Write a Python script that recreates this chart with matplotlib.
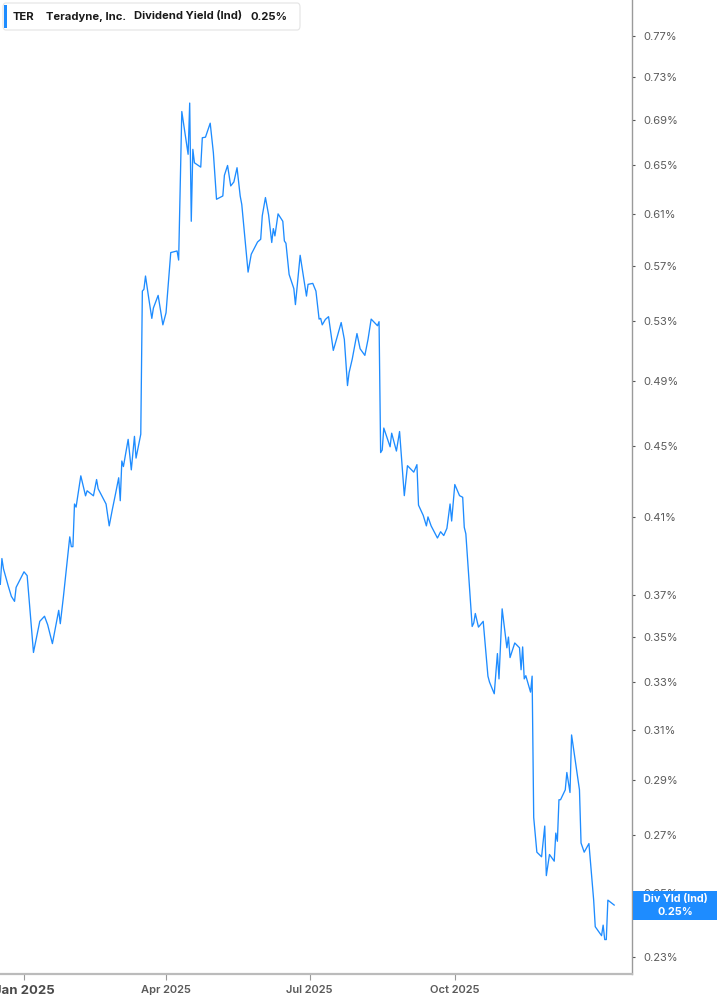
import numpy as np
import pandas as pd
import matplotlib
matplotlib.use("Agg")
import matplotlib.pyplot as plt
from matplotlib.patches import FancyBboxPatch, Rectangle
from matplotlib.ticker import FixedLocator, FixedFormatter, NullLocator

plt.rcParams['font.family'] = ['Inter', 'DejaVu Sans']

# TER dividend yield (Ind), %, days counted from 2025-01-01
day = [-15, -14, -13, -10, -8, -6, -5, 0, 2, 6, 10, 13, 15, 18, 22, 23, 25, 29, 30, 31,
       32, 33, 36, 39, 40, 44, 46, 47, 52, 54, 56, 58, 60, 61, 62, 63, 66, 68, 70, 71,
       74, 75, 76, 77, 79, 81, 82, 85, 88, 90, 93, 97, 98, 100, 102, 104, 105, 106, 107, 108,
       112, 113, 115, 118, 120, 122, 126, 127, 129, 131, 133, 135, 137, 138, 142, 144, 148, 150, 151, 153,
       155, 157, 158, 159, 161, 164, 165, 166, 168, 171, 172, 175, 179, 180, 183, 185, 187, 188, 189, 191,
       193, 196, 198, 201, 203, 205, 206, 208, 211, 213, 216, 218, 220, 224, 225, 226, 227, 228, 232, 233,
       236, 238, 241, 243, 247, 249, 250, 253, 255, 256, 258, 262, 264, 266, 268, 270, 271, 273, 276, 278,
       279, 280, 284, 285, 286, 288, 291, 294, 295, 298, 300, 301, 303, 306, 307, 308, 311, 314, 315, 316,
       317, 318, 321, 322, 323, 325, 328, 330, 331, 333, 336, 337, 338, 339, 340, 343, 344, 346, 347, 352,
       353, 355, 358, 361, 362, 366, 367, 368, 369, 370, 374]
dy = [0.3751, 0.3880, 0.3828, 0.3743, 0.3692, 0.3668, 0.3736, 0.3813, 0.3794, 0.3430,
      0.3573, 0.3597, 0.3557, 0.3470, 0.3625, 0.3562, 0.3692, 0.3992, 0.3941, 0.3941,
      0.4168, 0.4151, 0.4325, 0.4213, 0.4241, 0.4213, 0.4304, 0.4252, 0.4168, 0.4050,
      0.4139, 0.4224, 0.4314, 0.4186, 0.4410, 0.4378, 0.4537, 0.4359, 0.4555, 0.4427,
      0.4568, 0.5512, 0.5525, 0.5622, 0.5464, 0.5318, 0.5391, 0.5481, 0.5273, 0.5357,
      0.5798, 0.5810, 0.5741, 0.6977, 0.6784, 0.6596, 0.7055, 0.6041, 0.6639, 0.6523,
      0.6486, 0.6741, 0.6746, 0.6871, 0.6610, 0.6218, 0.6245, 0.6417, 0.6500, 0.6328,
      0.6361, 0.6481, 0.6245, 0.6176, 0.5651, 0.5785, 0.5879, 0.5900, 0.6085, 0.6232,
      0.6092, 0.5875, 0.5983, 0.5926, 0.6100, 0.6041, 0.5887, 0.5869, 0.5634, 0.5530,
      0.5415, 0.5777, 0.5476, 0.5561, 0.5568, 0.5512, 0.5313, 0.5318, 0.5273, 0.5311,
      0.5330, 0.5099, 0.5173, 0.5289, 0.5173, 0.4869, 0.4952, 0.5041, 0.5213, 0.5110,
      0.5066, 0.5173, 0.5313, 0.5267, 0.5295, 0.4459, 0.4474, 0.4605, 0.4493, 0.4574,
      0.4468, 0.4584, 0.4214, 0.4383, 0.4346, 0.4389, 0.4162, 0.4106, 0.4050, 0.4098,
      0.4050, 0.3986, 0.4019, 0.3999, 0.4037, 0.4168, 0.4076, 0.4276, 0.4214, 0.4205,
      0.4042, 0.4008, 0.3549, 0.3565, 0.3610, 0.3546, 0.3573, 0.3325, 0.3299, 0.3249,
      0.3425, 0.3313, 0.3632, 0.3451, 0.3500, 0.3407, 0.3473, 0.3451, 0.3353, 0.3455,
      0.3313, 0.3327, 0.3256, 0.3325, 0.2762, 0.2639, 0.2623, 0.2731, 0.2559, 0.2631,
      0.2608, 0.2706, 0.2677, 0.2827, 0.2827, 0.2864, 0.2930, 0.2854, 0.3078, 0.2864,
      0.2671, 0.2639, 0.2669, 0.2478, 0.2393, 0.2365, 0.2398, 0.2353, 0.2353, 0.2478,
      0.2462]

y_ticks = [0.23, 0.25, 0.27, 0.29, 0.31, 0.33, 0.35, 0.37, 0.41, 0.45, 0.49, 0.53,
           0.57, 0.61, 0.65, 0.69, 0.73, 0.77]
x_ticks = ['2025-01-01', '2025-04-01', '2025-07-01', '2025-10-01']
x_labels = ['Jan 2025', 'Apr 2025', 'Jul 2025', 'Oct 2025']
last_txt = '0.25%'

dates = pd.Timestamp('2025-01-01') + pd.to_timedelta(day, unit='D')

W, H = 717, 1005
fig = plt.figure(figsize=(W / 100, H / 100), dpi=100)
ax = fig.add_axes([0, 31 / H, 632 / W, 974 / H])

blue = '#1e8cff'
ax.plot(dates, dy, color=blue, lw=0.95)

ax.set_yscale('log')
ax.set_ylim(0.2249, 0.8077)
ax.set_xlim(pd.Timestamp('2024-12-16 19:00'), pd.Timestamp('2026-01-21 07:00'))

ax.yaxis.set_major_locator(FixedLocator(y_ticks))
ax.yaxis.set_major_formatter(FixedFormatter([f'{v:.2f}%' for v in y_ticks]))
ax.yaxis.set_minor_locator(NullLocator())
ax.yaxis.tick_right()
ax.tick_params(axis='y', direction='out', length=2.5, width=0.8, color='#555555',
               labelsize=8, labelcolor='#5a5a5a', pad=6)

ax.set_xticks(pd.to_datetime(x_ticks))
ax.set_xticklabels(x_labels)
ax.tick_params(axis='x', direction='out', length=4, width=0.8, color='#999999',
               labelsize=8, labelcolor='#5a5a5a', pad=4)
for i, lab in enumerate(ax.get_xticklabels()):
    lab.set_fontweight('semibold')
    if i == 0:
        lab.set_fontsize(9.5)
        lab.set_fontweight('bold')
        lab.set_color('#4a4a4a')

for s in ['left', 'top']:
    ax.spines[s].set_visible(False)
ax.spines['right'].set_color('#9a9a9a')
ax.spines['right'].set_linewidth(1.0)
ax.spines['bottom'].set_color('#bbbbbb')
ax.spines['bottom'].set_linewidth(1.6)

# header box
fig.patches.append(FancyBboxPatch((3 / W, 1 - 30 / H), 297 / W, 27 / H,
                                  boxstyle='round,pad=0,rounding_size=0.004',
                                  transform=fig.transFigure, facecolor='white',
                                  edgecolor='#e4e4e4', lw=0.8, zorder=5))
fig.patches.append(Rectangle((4 / W, 1 - 28 / H), 3 / W, 23 / H, transform=fig.transFigure,
                             facecolor=blue, edgecolor='none', zorder=6))
ty = 1 - 16.5 / H
for x0, txt in [(13, 'TER'), (46, 'Teradyne, Inc.'), (134, 'Dividend Yield (Ind)'), (250, last_txt)]:
    fig.text(x0 / W, ty, txt, fontsize=8.1, fontweight='bold', color='#1a1a1a',
             va='center', ha='left', zorder=7)

# last value label
fig.canvas.draw()
yc = ax.transData.transform((ax.get_xlim()[0], dy[-1]))[1]
fig.patches.append(Rectangle((633 / W, (yc - 14.5) / H), 84 / W, 29 / H, transform=fig.transFigure,
                             facecolor=blue, edgecolor='none', zorder=6))
fig.text(675 / W, (yc + 6) / H, 'Div Yld (Ind)', fontsize=7.8, fontweight='bold', color='white',
         ha='center', va='center', zorder=7)
fig.text(675 / W, (yc - 7) / H, last_txt, fontsize=7.8, fontweight='bold', color='white',
         ha='center', va='center', zorder=7)

fig.savefig('out.png', dpi=100)
